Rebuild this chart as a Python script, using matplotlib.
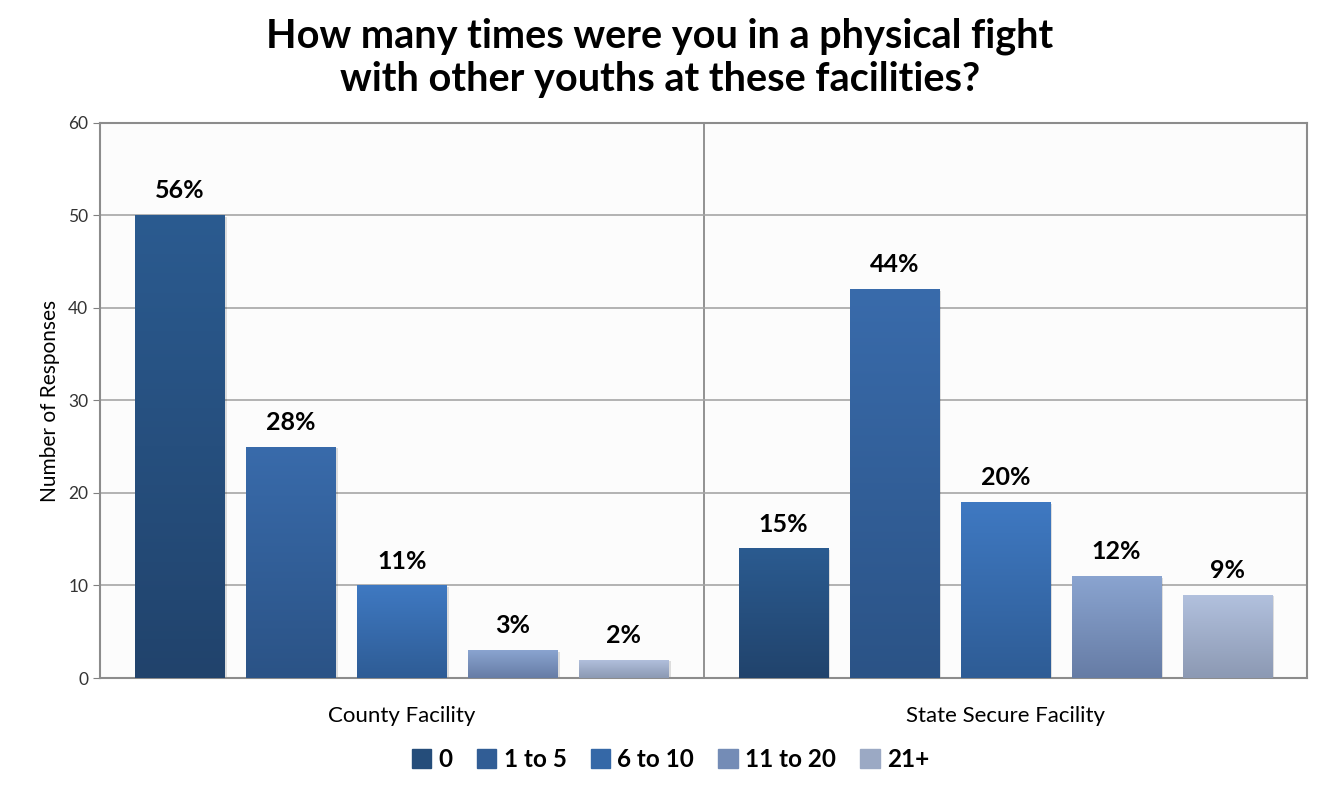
import numpy as np
import matplotlib.pyplot as plt
from matplotlib.colors import LinearSegmentedColormap

plt.rcParams['font.family'] = ['Lato', 'DejaVu Sans']

groups = ["County Facility", "State Secure Facility"]
series = ["0", "1 to 5", "6 to 10", "11 to 20", "21+"]
counts = {
    "0": [50, 14],
    "1 to 5": [25, 42],
    "6 to 10": [10, 19],
    "11 to 20": [3, 11],
    "21+": [2, 9],
}
pct_labels = {
    "0": ["56%", "15%"],
    "1 to 5": ["28%", "44%"],
    "6 to 10": ["11%", "20%"],
    "11 to 20": ["3%", "12%"],
    "21+": ["2%", "9%"],
}
y_ticks = [0, 10, 20, 30, 40, 50, 60]

# (top colour, bottom colour) for the gradient fill
colors = {
    "0": ("#2b5b90", "#21436c"),
    "1 to 5": ("#396bab", "#2b5386"),
    "6 to 10": ("#3f79c2", "#2e5c95"),
    "11 to 20": ("#8aa4d0", "#667ca5"),
    "21+": ("#b2c1de", "#8c99b3"),
}

fig = plt.figure(figsize=(13.2, 7.93), dpi=100)
ax = fig.add_axes([0.0758, 0.145, 0.9144, 0.700])

width = 0.148
step = 0.184
offsets = (np.arange(len(series)) - 2) * step
grad = np.linspace(1, 0, 256).reshape(-1, 1)

for i, s in enumerate(series):
    top, bot = colors[s]
    cmap = LinearSegmentedColormap.from_list(s, [bot, top])
    xs = np.arange(len(groups)) + offsets[i]
    bars = ax.bar(xs, counts[s], width=width, color=top, zorder=3, label=s,
                  edgecolor='none')
    for b, lab in zip(bars, pct_labels[s]):
        x0, h = b.get_x(), b.get_height()
        # soft shadow
        ax.add_patch(plt.Rectangle((x0 + 0.004, -0.15), width, h, color='#000000',
                                   alpha=0.12, zorder=2, linewidth=0))
        im = ax.imshow(grad, cmap=cmap, extent=[x0, x0 + width, 0, h],
                       aspect='auto', zorder=3.5, vmin=0, vmax=1)
        im.set_clip_path(b)
        ax.text(x0 + width / 2, h + 1.4, lab, ha='center', va='bottom',
                fontsize=18, fontweight='bold', color='black', zorder=5)

ax.set_xlim(-0.5, 1.5)
ax.set_ylim(0, 60)
ax.set_yticks(y_ticks)
ax.tick_params(axis='y', labelsize=12.5, colors='#333333', length=5, color='#808080')
ax.set_xticks([0, 1])
ax.set_xticklabels(groups, fontsize=16)
ax.tick_params(axis='x', length=0, pad=20)
ax.grid(axis='y', color='#a6a6a6', linewidth=1.2, zorder=0)
ax.axvline(0.5, color='#808080', linewidth=1.2, zorder=1)
for sp in ax.spines.values():
    sp.set_color('#8c8c8c')
    sp.set_linewidth(1.5)
ax.set_facecolor('#fcfcfc')
ax.set_ylabel("Number of Responses", fontsize=15, labelpad=6)

fig.suptitle("How many times were you in a physical fight\nwith other youths at these facilities?",
             fontsize=28.5, fontweight='bold', y=0.978, linespacing=1.2)

# legend swatches use the mid tone of each gradient
handles = []
for s in series:
    cm = LinearSegmentedColormap.from_list(s, [colors[s][1], colors[s][0]])
    handles.append(plt.Rectangle((0, 0), 1, 1, color=cm(0.4)))
leg = fig.legend(handles, series, loc='lower center', ncol=5, frameon=False,
                 bbox_to_anchor=(0.508, 0.0), prop={'size': 17.5, 'weight': 'bold'},
                 handlelength=0.8, handleheight=0.8, handletextpad=0.3, columnspacing=1.0)

fig.savefig("out.png", dpi=100)
